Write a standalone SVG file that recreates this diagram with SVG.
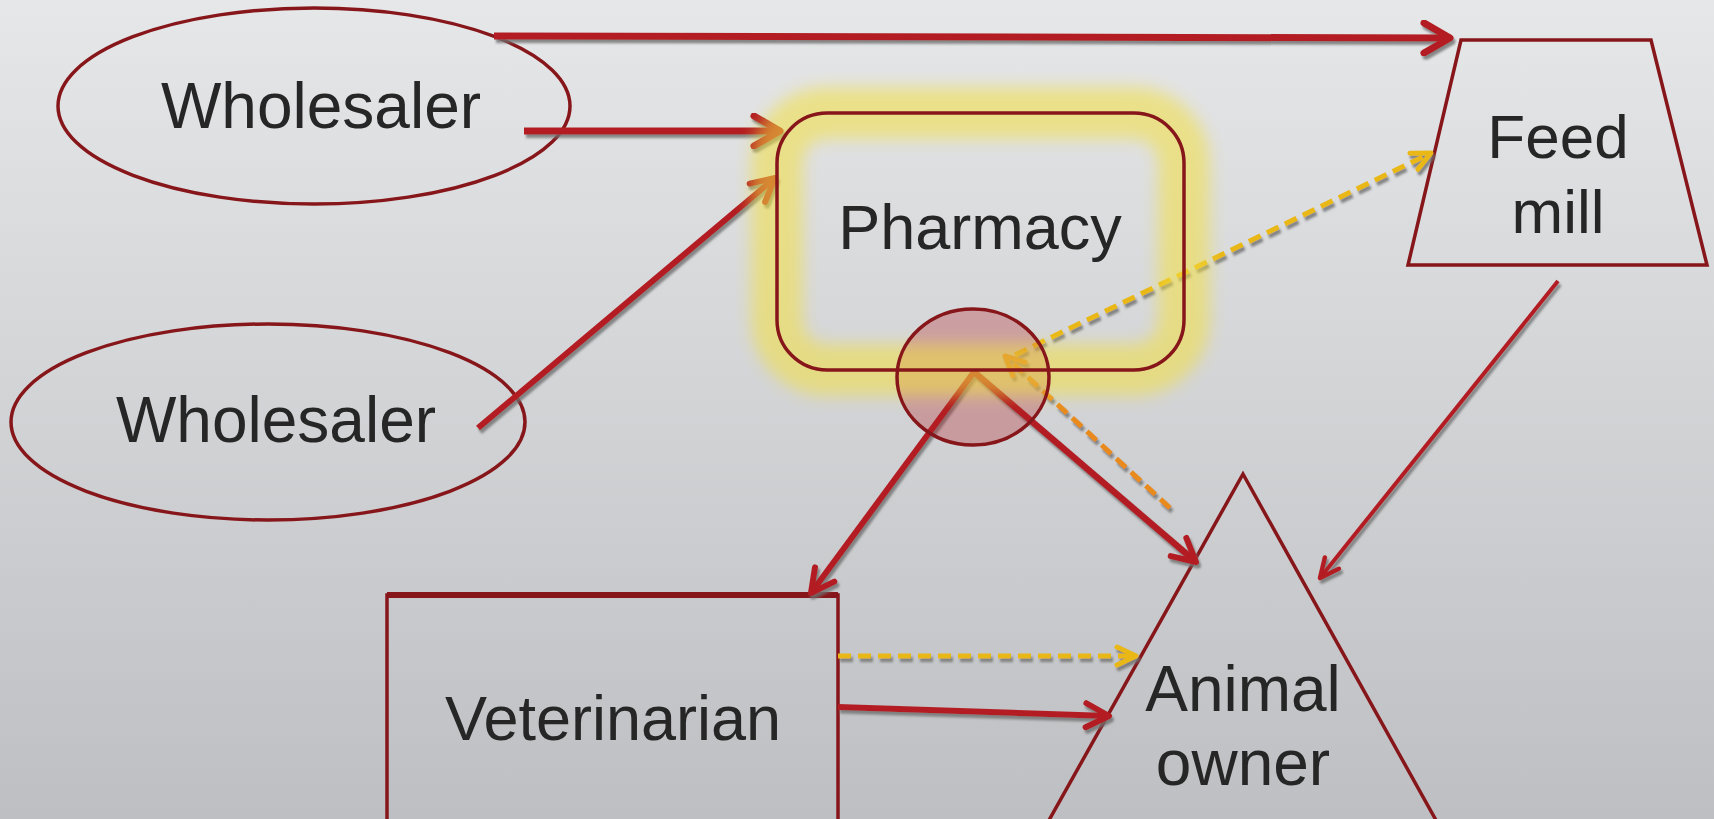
<svg xmlns="http://www.w3.org/2000/svg" width="1714" height="819" viewBox="0 0 1714 819">
<defs>
<linearGradient id="bg" x1="0" y1="0" x2="0" y2="1">
<stop offset="0" stop-color="#e6e7e9"/>
<stop offset="1" stop-color="#bebfc2"/>
</linearGradient>
<filter id="shadow" x="-10%" y="-10%" width="120%" height="120%">
<feDropShadow dx="2" dy="3.5" stdDeviation="0.8" flood-color="#6e6e6e" flood-opacity="0.8"/>
</filter>
<filter id="glowblur" x="-30%" y="-40%" width="160%" height="180%">
<feGaussianBlur stdDeviation="8"/>
</filter>
<marker id="arRed" viewBox="0 0 36 36" refX="32" refY="18" markerWidth="36" markerHeight="36" markerUnits="userSpaceOnUse" orient="auto">
<path d="M6,3 L32,18 L6,33" fill="none" stroke="#b21f24" stroke-width="7" stroke-linecap="round" stroke-linejoin="round"/>
</marker>
<marker id="arRedS" viewBox="0 0 32 32" refX="28" refY="16" markerWidth="32" markerHeight="32" markerUnits="userSpaceOnUse" orient="auto">
<path d="M5,4 L28,16 L5,28" fill="none" stroke="#b21f24" stroke-width="6" stroke-linecap="round" stroke-linejoin="round"/>
</marker>
<marker id="arRedT" viewBox="0 0 26 26" refX="23" refY="13" markerWidth="26" markerHeight="26" markerUnits="userSpaceOnUse" orient="auto">
<path d="M4,4 L23,13 L4,22" fill="none" stroke="#b21f24" stroke-width="4.5" stroke-linecap="round" stroke-linejoin="round"/>
</marker>
<marker id="arYel" viewBox="0 0 26 26" refX="23" refY="13" markerWidth="26" markerHeight="26" markerUnits="userSpaceOnUse" orient="auto">
<path d="M4,4 L23,13 L4,22" fill="none" stroke="#e9b717" stroke-width="5" stroke-linecap="round" stroke-linejoin="round"/>
</marker>
<marker id="arOr" viewBox="0 0 26 26" refX="23" refY="13" markerWidth="26" markerHeight="26" markerUnits="userSpaceOnUse" orient="auto">
<path d="M4,4 L23,13 L4,22" fill="none" stroke="#e88a1c" stroke-width="5" stroke-linecap="round" stroke-linejoin="round"/>
</marker>
</defs>
<style>
.node{fill:none;stroke:#86161a;stroke-width:3.5}
.lbl{font-family:"Liberation Sans",Arial,sans-serif;fill:#262626;text-anchor:middle}
.c{fill:none;stroke:#b21f24;stroke-linecap:butt}
.dy{fill:none;stroke:#e9b717;stroke-width:5;stroke-dasharray:13 7}
.do{fill:none;stroke:#e88a1c;stroke-width:5;stroke-dasharray:13 7}
</style>
<rect x="0" y="0" width="1714" height="819" fill="url(#bg)"/>

<g id="wholesaler1">
<ellipse class="node" cx="314" cy="106" rx="256" ry="98"/>
<text class="lbl" x="321" y="128" font-size="64">Wholesaler</text>
</g>
<g id="wholesaler2">
<ellipse class="node" cx="268" cy="422" rx="257" ry="98"/>
<text class="lbl" x="276" y="442" font-size="64">Wholesaler</text>
</g>
<g id="veterinarian">
<rect class="node" x="387" y="595" width="451" height="240"/>
<path d="M387,595 L838,595" stroke="#86161a" stroke-width="6"/>
<text class="lbl" x="613" y="740" font-size="63">Veterinarian</text>
</g>
<g id="feedmill">
<polygon class="node" points="1461,40 1651,40 1707,265 1408,265"/>
<text class="lbl" x="1558" y="158" font-size="62">Feed</text>
<text class="lbl" x="1558" y="233" font-size="62">mill</text>
</g>
<g id="animalowner">
<polygon class="node" points="1243,474 1437,822 1048,822"/>
<text class="lbl" x="1243" y="711" font-size="64">Animal</text>
<text class="lbl" x="1243" y="785" font-size="64">owner</text>
</g>

<g id="connectors" filter="url(#shadow)">
<path class="c" stroke-width="7" d="M494,36 L1450,38" marker-end="url(#arRed)"/>
<path class="c" stroke-width="7" d="M524,131 L780,131" marker-end="url(#arRed)"/>
<path class="c" stroke-width="6" d="M478,428 L775,178" marker-end="url(#arRedS)"/>
<path class="c" stroke-width="6" d="M974,372 L811,593" marker-end="url(#arRedS)"/>
<path class="c" stroke-width="6.5" d="M974,372 L1196,562" marker-end="url(#arRedS)"/>
<path class="c" stroke-width="4" d="M1558,281 L1320,578" marker-end="url(#arRedT)"/>
<path class="c" stroke-width="6" d="M838,707 L1109,716" marker-end="url(#arRedS)"/>
<path class="dy" d="M838,656 L1136,656" marker-end="url(#arYel)"/>
<path class="dy" d="M1015,355 L1431,153" marker-end="url(#arYel)"/>
<path class="do" d="M1170,508 L1005,356" marker-end="url(#arOr)"/>
</g>

<g id="pharmacy">
<ellipse cx="973" cy="377" rx="76" ry="68" fill="#b21f24" fill-opacity="0.3"/>
<rect x="777" y="113" width="407" height="257" rx="50" fill="none" stroke="#f2e040" stroke-opacity="0.55" stroke-width="52" filter="url(#glowblur)"/>
<rect x="777" y="113" width="407" height="257" rx="50" class="node"/>
<ellipse cx="973" cy="377" rx="76" ry="68" class="node"/>
<text class="lbl" x="980" y="249" font-size="63">Pharmacy</text>
</g>
</svg>
